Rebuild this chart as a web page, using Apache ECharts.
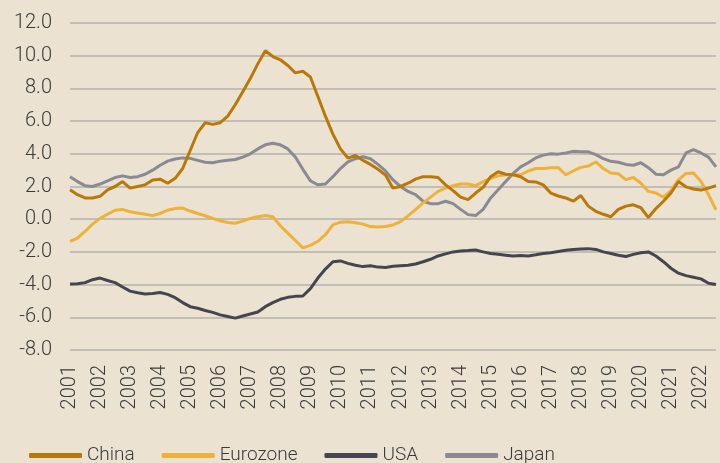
<!DOCTYPE html>
<html>
<head>
<meta charset="utf-8">
<script src="https://cdn.jsdelivr.net/npm/echarts@6/dist/echarts.min.js"></script>
<style>
  html, body { margin: 0; padding: 0; background: #ece2d2; }
  #chart { width: 720px; height: 463px; }
</style>
</head>
<body>
<div id="chart"></div>
<script>
// quarterly values, 2001 Q1 .. 2022 Q3
const years = ['2001', '2002', '2003', '2004', '2005', '2006', '2007', '2008', '2009', '2010', '2011',
    '2012', '2013', '2014', '2015', '2016', '2017', '2018', '2019', '2020', '2021', '2022'];
const quarters = ['Q1', 'Q2', 'Q3', 'Q4'];

const china = [
    1.8, 1.5, 1.3, 1.3, 1.4, 1.8, 2.0, 2.3, 1.9, 2.0, 2.1, 2.4, 2.45, 2.2, 2.5, 3.1,
    4.2, 5.3, 5.9, 5.8, 5.9, 6.3, 7.0, 7.8, 8.6, 9.5, 10.3, 9.95, 9.75, 9.4,
    8.95, 9.05, 8.7, 7.5, 6.3, 5.2, 4.3, 3.74, 3.9, 3.6, 3.35, 3.05, 2.7, 1.9,
    2.0, 2.2, 2.45, 2.6, 2.6, 2.55, 2.1, 1.75, 1.35, 1.2, 1.6, 1.95, 2.6, 2.9, 2.75,
    2.72, 2.6, 2.3, 2.28, 2.1, 1.6, 1.42, 1.3, 1.1, 1.45, 0.8, 0.48, 0.3, 0.15,
    0.6, 0.8, 0.88, 0.7, 0.1, 0.65, 1.1, 1.6, 2.3, 1.98, 1.85, 1.78, 1.9, 2.05
];
const eurozone = [
    -1.35, -1.15, -0.75, -0.3, 0.05, 0.3, 0.55, 0.6, 0.45, 0.38, 0.3, 0.22, 0.35, 0.55, 0.65, 0.68,
    0.5, 0.35, 0.21, 0.05, -0.1, -0.2, -0.25, -0.12, 0.05, 0.15, 0.22, 0.15, -0.4, -0.85,
    -1.3, -1.75, -1.6, -1.35, -0.95, -0.35, -0.18, -0.15, -0.22, -0.3, -0.45, -0.48, -0.45, -0.35,
    -0.15, 0.2, 0.58, 1.0, 1.35, 1.7, 1.9, 2.05, 2.15, 2.15, 2.05, 2.3, 2.5, 2.65, 2.72,
    2.72, 2.72, 2.95, 3.1, 3.1, 3.15, 3.15, 2.72, 2.95, 3.17, 3.25, 3.5, 3.1, 2.83,
    2.78, 2.42, 2.55, 2.2, 1.7, 1.6, 1.35, 1.75, 2.4, 2.8, 2.83, 2.3, 1.5, 0.58
];
const usa = [
    -3.97, -3.95, -3.88, -3.7, -3.6, -3.75, -3.88, -4.15, -4.4, -4.5, -4.58, -4.55, -4.48, -4.6, -4.8, -5.1,
    -5.35, -5.45, -5.58, -5.7, -5.85, -5.95, -6.05, -5.92, -5.8, -5.68, -5.35, -5.1, -4.9, -4.78,
    -4.72, -4.7, -4.25, -3.6, -3.05, -2.6, -2.55, -2.7, -2.82, -2.9, -2.85, -2.93, -2.95, -2.88, -2.85,
    -2.82, -2.74, -2.6, -2.45, -2.25, -2.12, -2.0, -1.95, -1.92, -1.88, -2.0, -2.1, -2.15, -2.2,
    -2.25, -2.22, -2.25, -2.18, -2.1, -2.05, -1.97, -1.9, -1.85, -1.82, -1.8, -1.85, -2.0, -2.1,
    -2.2, -2.28, -2.15, -2.05, -2.0, -2.25, -2.6, -3.0, -3.3, -3.45, -3.55, -3.65, -3.92, -4.0
];
const japan = [
    2.6, 2.3, 2.05, 2.0, 2.15, 2.35, 2.55, 2.65, 2.55, 2.6, 2.75, 3.0, 3.3, 3.55, 3.68, 3.75,
    3.72, 3.6, 3.48, 3.45, 3.55, 3.6, 3.65, 3.8, 4.0, 4.3, 4.55, 4.65, 4.55,
    4.3, 3.8, 3.05, 2.35, 2.1, 2.15, 2.6, 3.1, 3.5, 3.7, 3.82, 3.7, 3.35, 2.95,
    2.4, 2.0, 1.7, 1.5, 1.1, 0.95, 0.95, 1.1, 0.95, 0.6, 0.28, 0.22, 0.6, 1.3, 1.8, 2.3,
    2.8, 3.2, 3.45, 3.75, 3.92, 4.0, 3.98, 4.05, 4.15, 4.12, 4.12, 3.95, 3.7, 3.54,
    3.48, 3.35, 3.3, 3.45, 3.15, 2.75, 2.72, 3.0, 3.2, 4.05, 4.25, 4.05, 3.8, 3.2
];

const categories = [];
years.forEach(y => quarters.forEach(q => categories.push(y + ' ' + q)));
categories.length = china.length;

const font = 'Roboto';
const textColor = '#3a3a3a';

const chart = echarts.init(document.getElementById('chart'));
const line = (name, data, color) => ({
    name: name,
    type: 'line',
    data: data,
    showSymbol: false,
    symbol: 'none',
    lineStyle: { width: 3, color: color },
    itemStyle: { color: color }
});

chart.setOption({
    animation: false,
    backgroundColor: '#ece2d2',
    textStyle: { fontFamily: font, fontWeight: 300 },
    grid: { left: 70, right: 4, top: 23, bottom: 113 },
    legend: {
        left: 24,
        top: 441,
        itemWidth: 53,
        itemHeight: 5,
        itemGap: 27,
        icon: 'roundRect',
        textStyle: { fontSize: 19, color: textColor, fontFamily: font, fontWeight: 300 },
        data: ['China', 'Eurozone', 'USA', 'Japan']
    },
    xAxis: {
        type: 'category',
        data: categories,
        boundaryGap: false,
        axisLine: { show: false },
        axisTick: { show: false },
        axisLabel: {
            interval: 3,
            rotate: 90,
            margin: 15,
            padding: [16, 0, 0, 0],
            fontSize: 20,
            fontWeight: 300,
            color: textColor,
            formatter: v => v.slice(0, 4)
        }
    },
    yAxis: {
        type: 'value',
        min: -8,
        max: 12,
        interval: 2,
        axisLine: { show: false },
        axisTick: { show: false },
        axisLabel: {
            margin: 18,
            fontSize: 20,
            fontWeight: 300,
            color: textColor,
            formatter: v => v.toFixed(1)
        },
        splitLine: { lineStyle: { color: '#b4b1ab', width: 1.5 } }
    },
    series: [
        line('Japan', japan, '#8a8a92'),
        line('USA', usa, '#45454f'),
        line('Eurozone', eurozone, '#eeb13a'),
        line('China', china, '#b97909')
    ]
});
</script>
</body>
</html>
